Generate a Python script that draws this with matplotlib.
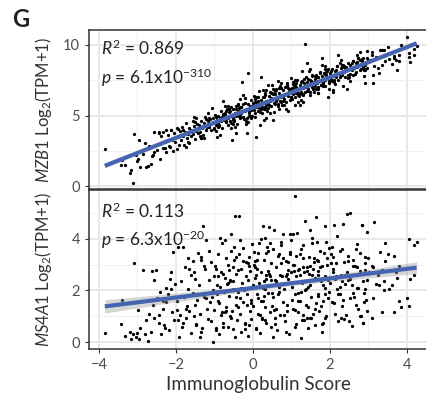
import numpy as np
import matplotlib
matplotlib.use('Agg')
import matplotlib.pyplot as plt
from matplotlib import font_manager
from matplotlib.ticker import MultipleLocator

plt.rcParams['font.family'] = ['Lato', 'DejaVu Sans']
plt.rcParams['mathtext.fontset'] = 'custom'
plt.rcParams['mathtext.rm'] = 'Lato'

# pick an installed italic face for the gene names
it_family = 'DejaVu Sans'
for fam in ['Lato', 'Open Sans', 'Noto Sans', 'Roboto']:
    path = font_manager.findfont(
        font_manager.FontProperties(family=fam, style='italic'),
        fallback_to_default=False)
    if 'italic' in path.lower() and fam.split()[0].lower() in path.lower():
        it_family = fam
        break
plt.rcParams['mathtext.it'] = it_family + ':italic'

# immunoglobulin score per sample (shared by both panels)
ig_score = [
    -3.85, -3.44, -3.41, -3.32, -3.20, -3.18, -3.11, -3.09, -3.05, -3.02,
    -2.98, -2.96, -2.93, -2.85, -2.79, -2.74, -2.70, -2.66, -2.59, -2.57,
    -2.56, -2.52, -2.49, -2.44, -2.42, -2.40, -2.35, -2.30, -2.27, -2.25,
    -2.21, -2.18, -2.14, -2.10, -2.08, -2.05, -2.02, -1.98, -1.95, -1.92,
    -1.90, -1.88, -1.85, -1.82, -1.80, -1.77, -1.75, -1.72, -1.70, -1.68,
    -1.65, -1.62, -1.60, -1.57, -1.55, -1.52, -1.50, -1.47, -1.45, -1.42,
    -1.40, -1.38, -1.35, -1.33, -1.31, -1.28, -1.25, -1.22, -1.20, -1.18,
    -1.15, -1.12, -1.10, -1.08, -1.05, -1.03, -1.01, -0.98, -0.96, -0.94,
    -0.92, -0.90, -0.88, -0.86, -0.84, -0.82, -0.80, -0.78, -0.76, -0.74,
    -0.72, -0.70, -0.68, -0.66, -0.64, -0.62, -0.60, -0.58, -0.56, -0.55,
    -0.53, -0.51, -0.49, -0.47, -0.45, -0.43, -0.41, -0.39, -0.37, -0.36,
    -0.34, -0.32, -0.30, -0.29, -0.27, -0.25, -0.23, -0.21, -0.19, -0.17,
    -0.16, -0.14, -0.12, -0.10, -0.09, -0.07, -0.05, -0.04, -0.02, -0.01,
    -0.95, -0.87, -0.79, -0.69, -0.61, -0.52, -0.44, -0.33, -0.22, -0.11,
    0.01, 0.03, 0.05, 0.07, 0.08, 0.10, 0.12, 0.14, 0.16, 0.18,
    0.20, 0.22, 0.24, 0.26, 0.27, 0.29, 0.31, 0.33, 0.35, 0.37,
    0.39, 0.41, 0.43, 0.44, 0.46, 0.48, 0.50, 0.51, 0.53, 0.55,
    0.57, 0.59, 0.61, 0.63, 0.65, 0.67, 0.69, 0.71, 0.73, 0.75,
    0.77, 0.79, 0.81, 0.83, 0.85, 0.87, 0.89, 0.91, 0.93, 0.95,
    0.96, 0.98, 0.04, 0.13, 0.21, 0.32, 0.42, 0.52, 0.64, 0.74,
    0.06, 0.17, 0.28, 0.38, 0.47, 0.58, 0.68, 0.78, 0.88, 0.99,
    1.01, 1.03, 1.05, 1.07, 1.09, 1.11, 1.13, 1.15, 1.17, 1.19,
    1.21, 1.23, 1.25, 1.27, 1.29, 1.31, 1.33, 1.35, 1.37, 1.39,
    1.41, 1.43, 1.44, 1.46, 1.48, 1.50, 1.52, 1.54, 1.56, 1.58,
    1.60, 1.62, 1.64, 1.66, 1.68, 1.70, 1.72, 1.74, 1.76, 1.78,
    1.80, 1.82, 1.84, 1.86, 1.88, 1.90, 1.92, 1.94, 1.96, 1.98,
    1.02, 1.12, 1.22, 1.32, 1.42, 1.53, 1.63, 1.73, 1.83, 1.93,
    1.06, 1.16, 1.26, 1.36, 1.47, 1.57, 1.67, 1.77, 1.87, 1.97,
    2.00, 2.03, 2.06, 2.09, 2.10, 2.13, 2.16, 2.19, 2.22, 2.25,
    2.28, 2.31, 2.33, 2.36, 2.39, 2.42, 2.43, 2.45, 2.48, 2.51,
    2.53, 2.56, 2.59, 2.62, 2.65, 2.68, 2.71, 2.74, 2.77, 2.80,
    2.82, 2.85, 2.87, 2.90, 2.91, 2.93, 2.95, 2.97, 2.99, 2.88,
    2.05, 2.15, 2.26, 2.37, 2.47, 2.57, 2.67, 2.78, 2.86, 2.96,
    3.02, 3.15, 3.12, 3.12, 3.20, 3.30, 3.34, 3.40, 3.43, 3.43,
    3.54, 3.65, 3.65, 3.71, 3.73, 3.78, 3.80, 4.01, 4.04, 4.08,
    4.17, 4.18, 4.25, 4.04, 3.41, 3.34, 2.87, 2.59, 2.78, 2.82,
    -1.48, -1.26, -1.06, -0.85, -0.65, -0.46, -0.26, -0.06, 0.15, 0.34,
    0.54, 0.72, 0.92, 1.10, 1.30, 1.49, 1.69, 1.88, 2.07, 2.27,
    -1.36, -1.16, -0.97, -0.77, -0.57, -0.38, -0.18, 0.02, 0.23, 0.40,
    0.60, 0.80, 1.00, 1.18, 1.38, 1.58, 1.78, 1.98, 2.17, 2.35,
    -2.35, -2.15, -1.94, -1.74, -1.54, -1.34, -1.13, -0.93, -0.73, -0.53,
    -0.33, -0.13, 0.08, 0.28, 0.49, 0.68, 0.88, 1.08, 1.28, 1.48,
    1.68, 1.88, 2.08, 2.28, 2.48, 2.69, 2.89, 3.08, 3.28, 3.50,
    -0.90, -0.70, -0.50, -0.30, -0.10, 0.11, 0.30, 0.50, 0.70, 0.90,
    1.10, 1.30, 1.50, 1.70, 1.90, 2.10, 2.30, 2.50, 2.70, 2.90,
    -0.45, -0.20, 0.05, 0.25, 0.45, 0.65, 0.85, 1.05, 1.25, 1.45,
    -2.80, -2.62, -2.45, -2.28, -2.12, -1.97, -1.83, -1.67, -1.51, -1.37,
    2.12, 2.32, 2.52, 2.72, 2.92, 3.10, 3.25, 3.62, 3.85, 0.35,
    -0.80, -0.60, -0.40, -0.15, 0.10, 0.32, 0.56, 0.76, 0.97, 1.17,
    1.40, 1.62, 1.81, 2.02, 2.20, 2.40, 2.60, -1.22, -1.02, -0.62,
]

# MZB1 log2(TPM+1)
mzb1 = [
    2.65, 1.49, 1.85, 1.49, 0.94, 1.18, 0.23, 3.67, 2.20, 1.75,
    1.94, 3.26, 1.33, 2.30, 1.35, 1.42, 2.84, 1.56, 2.20, 3.85,
    2.45, 2.90, 2.55, 3.74, 1.90, 3.57, 2.70, 3.10, 4.00, 2.45,
    3.60, 2.85, 3.95, 3.30, 2.50, 3.75, 3.10, 4.15, 3.45, 2.95,
    3.90, 3.30, 4.20, 3.55, 2.95, 3.85, 4.45, 3.40, 3.70, 3.10,
    4.10, 3.55, 3.95, 4.60, 3.70, 4.25, 3.35, 3.90, 4.40, 3.75,
    4.30, 3.85, 4.65, 4.10, 3.60, 4.45, 4.90, 3.95, 4.20, 4.60,
    4.20, 4.75, 4.40, 3.95, 4.85, 4.55, 4.10, 5.05, 4.30, 4.70,
    4.50, 5.00, 4.25, 4.80, 5.35, 4.60, 4.15, 4.95, 4.70, 5.20,
    5.10, 4.60, 5.50, 4.85, 4.30, 5.25, 4.95, 4.50, 5.60, 3.26,
    4.85, 5.45, 4.60, 5.15, 5.70, 4.95, 4.40, 5.30, 5.00, 5.55,
    5.00, 5.60, 5.20, 7.35, 4.90, 5.85, 4.75, 5.35, 5.50, 4.60,
    3.74, 5.80, 8.00, 5.30, 5.65, 4.95, 6.10, 5.40, 5.00, 5.75,
    4.90, 4.30, 5.10, 4.55, 5.30, 4.70, 5.45, 4.85, 5.90, 5.15,
    5.90, 5.40, 6.20, 5.60, 3.50, 5.85, 5.30, 6.05, 5.55, 4.33,
    6.10, 7.75, 5.60, 6.30, 5.90, 5.45, 6.45, 5.75, 6.00, 5.35,
    5.80, 6.40, 6.00, 6.70, 5.65, 6.25, 6.15, 4.68, 6.55, 5.90,
    6.50, 6.00, 6.85, 6.20, 5.70, 6.60, 6.35, 7.10, 5.95, 6.45,
    6.30, 6.80, 6.15, 7.00, 6.55, 5.95, 7.30, 6.40, 6.75, 6.10,
    6.90, 6.35, 5.20, 6.35, 5.50, 6.60, 5.75, 6.90, 5.85, 6.95,
    5.95, 5.25, 6.35, 5.55, 6.60, 5.85, 6.95, 6.05, 7.15, 6.30,
    6.95, 6.50, 7.25, 6.80, 6.30, 7.05, 6.60, 7.50, 6.85, 6.40,
    5.74, 7.20, 6.70, 7.45, 6.95, 6.55, 7.30, 10.05, 7.00, 8.70,
    7.40, 6.90, 7.60, 7.15, 6.70, 7.45, 7.00, 7.80, 6.85, 7.35,
    7.60, 7.10, 7.85, 7.30, 6.85, 7.70, 7.45, 8.10, 7.20, 9.05,
    7.80, 7.35, 8.05, 7.55, 7.10, 7.90, 7.65, 6.33, 8.30, 7.45,
    6.20, 7.30, 6.50, 7.60, 6.75, 7.85, 6.90, 8.00, 7.10, 8.15,
    7.05, 6.45, 7.40, 6.70, 7.55, 6.95, 7.75, 7.15, 7.95, 7.30,
    8.05, 7.60, 8.30, 7.80, 7.40, 8.15, 7.70, 8.50, 9.30, 7.95,
    8.35, 7.90, 8.60, 8.10, 7.75, 8.45, 6.86, 8.20, 8.75, 7.95,
    8.60, 8.20, 8.85, 8.35, 7.95, 8.70, 8.45, 9.10, 9.50, 8.30,
    8.90, 8.45, 9.10, 8.60, 7.28, 8.75, 9.60, 8.40, 8.95, 8.20,
    7.45, 8.25, 7.70, 8.50, 7.90, 8.70, 8.10, 8.95, 8.35, 9.05,
    8.95, 8.50, 7.87, 7.28, 9.15, 9.65, 8.60, 9.65, 9.30, 8.90,
    9.00, 9.05, 9.20, 8.95, 8.20, 8.87, 9.30, 10.60, 9.45, 8.80,
    9.30, 9.75, 9.90, 9.15, 9.20, 9.65, 8.60, 8.90, 8.25, 9.00,
    4.86, 3.40, 5.52, 3.64, 5.66, 4.16, 6.48, 4.80, 6.72, 4.83,
    5.24, 7.34, 5.35, 7.55, 5.96, 8.27, 6.59, 8.49, 6.70, 8.71,
    3.39, 5.21, 3.91, 6.03, 4.14, 5.85, 4.37, 6.38, 5.21, 7.19,
    6.81, 5.72, 7.64, 5.93, 7.75, 6.67, 8.58, 6.90, 8.50, 7.10,
    3.82, 2.74, 4.06, 2.78, 4.90, 3.41, 4.84, 3.46, 5.67, 4.39,
    6.20, 4.52, 6.35, 4.66, 7.19, 5.49, 7.11, 5.73, 8.14, 6.46,
    6.57, 8.29, 6.81, 8.92, 7.64, 9.27, 7.78, 9.49, 8.00, 9.84,
    4.19, 5.30, 4.72, 5.64, 4.95, 5.98, 5.48, 6.60, 6.02, 6.93,
    7.15, 6.46, 7.48, 7.00, 8.11, 7.53, 8.44, 7.76, 8.78, 8.29,
    3.77, 6.24, 4.91, 6.83, 5.15, 7.46, 5.48, 7.39, 6.11, 8.13,
    3.04, 2.13, 3.81, 2.70, 3.97, 2.63, 3.98, 3.06, 4.53, 3.58,
    7.25, 8.57, 7.48, 9.10, 8.21, 9.31, 8.37, 8.67, 10.02, 6.84,
    4.90, 4.61, 5.73, 4.80, 5.87, 5.61, 6.76, 5.78, 6.81, 6.62,
    6.77, 7.81, 7.31, 8.14, 7.54, 8.35, 7.87, 4.74, 4.06, 5.49,
]

# MS4A1 log2(TPM+1)
ms4a1 = [
    0.36, 0.70, 1.63, 0.25, 0.40, 0.12, 0.30, 3.08, 0.18, 0.35,
    1.24, 0.10, 0.55, 2.80, 0.85, 0.05, 1.10, 0.40, 1.45, 0.95,
    2.40, 2.80, 1.70, 0.75, 1.95, 0.30, 1.30, 0.65, 2.10, 1.55,
    1.85, 0.45, 2.70, 1.15, 3.50, 0.85, 2.25, 1.60, 3.70, 0.20,
    1.05, 2.35, 0.60, 3.70, 1.75, 2.90, 0.95, 1.40, 3.25, 2.05,
    1.20, 2.60, 0.35, 1.90, 3.15, 1.00, 2.45, 0.70, 1.65, 3.45,
    2.20, 1.10, 3.30, 0.55, 4.50, 1.75, 2.85, 3.96, 1.30, 0.90,
    2.40, 1.55, 0.80, 3.10, 0.01, 2.00, 1.25, 2.95, 0.45, 1.85,
    1.60, 3.40, 0.30, 2.15, 1.05, 2.70, 3.85, 0.75, 1.95, 2.50,
    3.96, 1.35, 2.25, 0.60, 3.00, 1.80, 2.40, 0.95, 3.55, 1.20,
    2.05, 0.50, 3.20, 4.90, 1.45, 2.65, 0.85, 1.95, 3.40, 4.90,
    1.10, 2.85, 0.40, 2.30, 3.65, 1.55, 2.00, 0.70, 3.10, 2.55,
    1.85, 0.25, 2.40, 3.30, 1.20, 2.75, 0.90, 1.65, 3.80, 2.20,
    2.85, 1.50, 0.60, 3.25, 1.00, 2.35, 1.75, 3.95, 0.50, 2.95,
    1.40, 3.00, 2.15, 0.55, 2.60, 1.85, 3.45, 1.10, 2.30, 0.35,
    2.70, 1.60, 0.95, 4.51, 2.10, 3.20, 1.35, 2.45, 0.75, 3.70,
    1.90, 4.47, 2.55, 1.15, 3.05, 0.60, 2.20, 1.75, 3.60, 4.34,
    2.40, 1.30, 2.90, 0.45, 3.35, 1.95, 2.60, 1.05, 3.90, 2.25,
    1.55, 4.18, 2.05, 0.80, 3.15, 2.55, 1.20, 2.80, 0.30, 3.50,
    4.20, 2.30, 3.15, 1.70, 4.00, 0.85, 2.65, 0.20, 1.85, 3.05,
    2.90, 1.05, 1.80, 3.55, 2.40, 0.95, 2.15, 3.25, 1.45, 2.70,
    2.15, 4.20, 1.30, 3.00, 5.67, 2.55, 0.70, 4.25, 1.90, 2.85,
    3.40, 1.60, 0.14, 2.30, 3.75, 1.05, 2.70, 4.71, 2.05, 0.95,
    2.90, 1.35, 0.53, 3.30, 2.20, 1.75, 3.85, 2.60, 1.10, 3.10,
    2.50, 0.65, 4.87, 3.20, 1.85, 2.75, 1.20, 3.55, 2.35, 0.40,
    2.95, 1.60, 3.45, 4.50, 2.10, 1.00, 3.00, 2.40, 1.70, 3.65,
    1.65, 3.35, 2.60, 0.85, 2.15, 4.05, 1.50, 2.90, 0.75, 3.25,
    2.75, 1.15, 3.60, 2.00, 0.95, 2.85, 3.90, 1.40, 2.55, 1.95,
    2.30, 3.40, 1.55, 2.85, 4.55, 1.10, 3.05, 2.05, 0.80, 3.55,
    2.60, 1.40, 4.60, 3.10, 2.25, 1.05, 2.70, 4.97, 3.35, 5.00,
    2.45, 0.62, 3.20, 1.75, 2.95, 3.60, 2.10, 1.30, 2.75, 1.00,
    4.55, 2.35, 0.75, 2.80, 3.05, 1.65, 4.28, 2.40, 3.25, 1.90,
    3.70, 2.55, 1.85, 0.90, 3.15, 2.20, 1.45, 3.45, 2.65, 1.20,
    2.70, 4.65, 2.90, 1.70, 2.25, 3.50, 1.18, 2.35, 3.83, 3.16,
    2.05, 1.18, 3.35, 2.73, 2.50, 1.59, 2.95, 1.72, 4.00, 2.45,
    3.76, 2.60, 3.87, 1.40, 2.02, 2.80, 0.75, 1.90, 1.00, 4.55,
    0.65, 2.95, 1.75, 4.05, 2.30, 0.20, 3.15, 1.50, 3.85, 2.60,
    1.25, 3.75, 2.45, 0.60, 2.90, 4.35, 1.80, 0.95, 3.30, 2.15,
    3.20, 1.90, 0.55, 2.65, 4.20, 1.35, 2.05, 3.50, 0.90, 2.75,
    2.35, 1.05, 3.95, 2.80, 1.45, 3.25, 0.70, 2.50, 4.10, 1.65,
    1.60, 2.45, 0.85, 1.30, 2.70, 0.40, 3.55, 2.20, 1.15, 2.90,
    1.70, 3.05, 0.50, 2.35, 1.90, 3.40, 2.65, 1.25, 0.85, 2.95,
    3.15, 1.85, 2.70, 0.95, 2.40, 3.80, 1.55, 2.95, 2.20, 3.40,
    2.55, 1.20, 3.70, 2.10, 0.65, 2.85, 4.05, 1.40, 2.25, 3.10,
    1.85, 3.25, 0.95, 2.60, 3.90, 1.50, 2.35, 0.80, 2.90, 2.05,
    3.30, 0.75, 2.50, 1.60, 3.85, 2.20, 0.40, 3.00, 1.95, 2.65,
    0.30, 2.75, 1.05, 0.55, 2.05, 1.25, 0.75, 2.85, 1.45, 0.20,
    2.45, 3.60, 1.70, 2.10, 3.30, 0.95, 2.60, 2.20, 1.35, 3.45,
    1.15, 2.35, 2.80, 1.45, 3.20, 2.05, 0.70, 2.55, 3.40, 1.60,
    2.75, 1.30, 2.20, 3.05, 1.85, 2.60, 2.95, 1.70, 2.55, 2.80,
]

gene_names = ['MZB1', 'MS4A1']
r_squared = ['0.869', '0.113']
p_mantissa = ['6.1', '6.3']
p_exponent = ['-310', '-20']


def fit_line(x, y):
    x = np.asarray(x)
    y = np.asarray(y)
    slope, icept = np.polyfit(x, y, 1)
    xs = np.linspace(x.min(), x.max(), 100)
    pred = icept + slope * xs
    resid = y - (icept + slope * x)
    n = len(x)
    s = np.sqrt(np.sum(resid ** 2) / (n - 2))
    se = s * np.sqrt(1 / n + (xs - x.mean()) ** 2 /
                     np.sum((x - x.mean()) ** 2))
    return xs, pred, 1.96 * se


def style_axis(ax):
    ax.set_facecolor('white')
    for side in ['left', 'top', 'bottom']:
        ax.spines[side].set_color('#333333')
        ax.spines[side].set_linewidth(1.1)
    ax.spines['right'].set_visible(False)
    ax.xaxis.set_major_locator(MultipleLocator(2))
    ax.xaxis.set_minor_locator(MultipleLocator(1))
    ax.grid(which='major', color='#e8e8e8', linewidth=1.4, zorder=0)
    ax.grid(which='minor', color='#f1f1f1', linewidth=0.7, zorder=0)
    ax.set_axisbelow(True)
    ax.tick_params(which='major', direction='out', length=3, width=0.8,
                   color='#333333', labelcolor='#4d4d4d', labelsize=10.5)
    ax.tick_params(which='minor', length=0)


def main():
    fig = plt.figure(figsize=(4.27, 3.96), dpi=100)
    ax_top = fig.add_axes([0.2084, 0.5227, 0.7916, 0.4015])
    ax_bot = fig.add_axes([0.2084, 0.1187, 0.7916, 0.4015])

    panels = [(ax_top, mzb1, (-0.2, 11.06), 5, 2.5, 0.887, 0.698),
              (ax_bot, ms4a1, (-0.27, 5.9), 2, 1, 0.864, 0.686)]

    for i, (ax, yvals, ylim, major, minor, ry, py) in enumerate(panels):
        style_axis(ax)
        ax.yaxis.set_major_locator(MultipleLocator(major))
        ax.yaxis.set_minor_locator(MultipleLocator(minor))
        ax.scatter(ig_score, yvals, s=5.5, color='black', linewidths=0,
                   zorder=3)
        xs, pred, ci = fit_line(ig_score, yvals)
        ax.fill_between(xs, pred - ci, pred + ci, color='#999999',
                        alpha=0.4, linewidth=0, zorder=4)
        ax.plot(xs, pred, color='#4565b0', linewidth=3.0,
                solid_capstyle='butt', zorder=5)
        ax.set_xlim(-4.26, 4.52)
        ax.set_ylim(*ylim)
        ax.set_ylabel(r'$\mathit{%s}$ Log$_2$(TPM+1)' % gene_names[i],
                      fontsize=12, color='#333333')
        ax.yaxis.set_label_coords(-0.104, 0.5)
        ax.text(0.036, ry, r'$R^2$ = %s' % r_squared[i],
                transform=ax.transAxes, fontsize=12.5, va='center',
                color='#222222', zorder=6)
        ax.text(0.036, py, r'$p$ = %sx10$^{%s}$' % (p_mantissa[i],
                                                 p_exponent[i]),
                transform=ax.transAxes, fontsize=12.5, va='center',
                color='#222222', zorder=6)

    ax_top.tick_params(axis='x', which='major', labelbottom=False,
                       length=0)
    ax_bot.set_xlabel('Immunoglobulin Score', fontsize=13.5,
                      color='#333333', labelpad=3)

    fig.text(0.028, 0.952, 'G', fontsize=17, fontweight='bold',
             color='#222222', va='center', ha='left')

    fig.savefig('out.png', dpi=100)


if __name__ == '__main__':
    main()
